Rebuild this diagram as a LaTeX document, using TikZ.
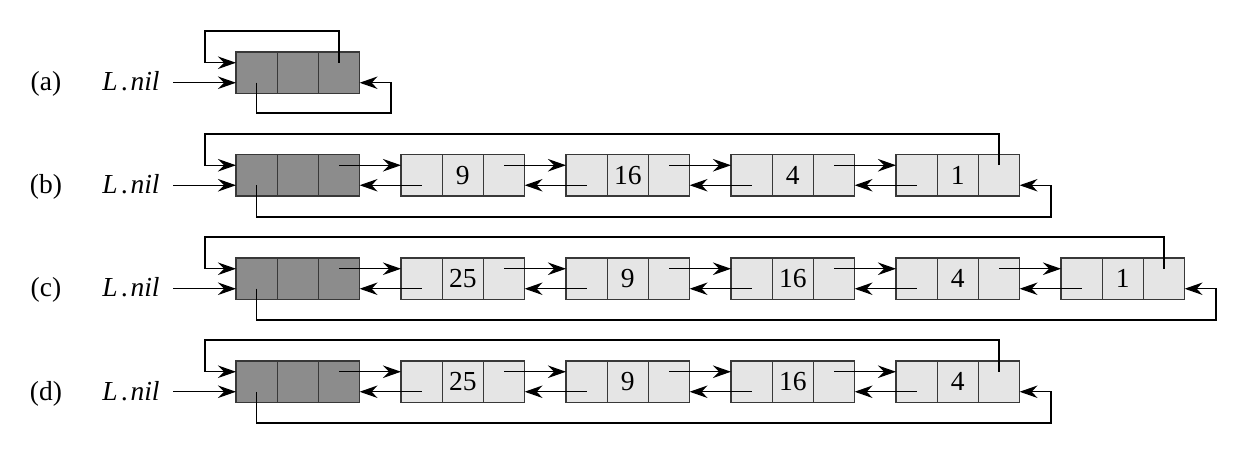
\documentclass[tikz,border=0pt]{standalone}
\usepackage{fontspec}
\setmainfont{Liberation Serif}
\usetikzlibrary{arrows.meta}
\definecolor{darkcell}{gray}{0.55}
\definecolor{lightcell}{gray}{0.9}
\definecolor{celledge}{gray}{0.22}
\tikzset{
  cell/.style={draw=celledge, line width=1.3pt, minimum width=41.2pt, minimum height=41.5pt,
    inner sep=0pt, outer sep=0pt, anchor=north west, font=\fontsize{27.5}{30}\selectfont},
  sent/.style={cell, fill=darkcell},
  elt/.style={cell, fill=lightcell},
  ptr/.style={line width=1.2pt, -{Stealth[length=18pt,width=12.5pt,inset=6pt]}},
  lbl/.style={anchor=base, font=\fontsize{27.5}{30}\selectfont, inner sep=0pt},
}
\newcommand{\listelem}[5]{%
  \node[#4] (#1-1) at (#2,#3) {};
  \node[#4] (#1-2) at (#2+41.2,#3) {#5};
  \node[#4] (#1-3) at (#2+82.4,#3) {};
}
\newcommand{\linkpair}[2]{%
  \draw[ptr] ([yshift=10pt]#1-3.center) -- ([yshift=10pt]#2-1.west);
  \draw[ptr] ([yshift=-10pt]#2-1.center) -- ([yshift=-10pt]#1-3.east);
}
\newcommand{\loops}[4]{%
  \draw[ptr] ([yshift=10pt]#2-3.center) |- (#3) |- ([yshift=10pt]#1-1.west);
  \draw[ptr] ([yshift=-10pt]#1-1.center) |- (#4) |- ([yshift=-10pt]#2-3.east);
}
\newcommand{\rowhead}[3]{% row id, label, top y
  \node[lbl] (#1-lab) at (46,#3+39) {(#2)};
  \node[lbl] (#1-name) at (131,#3+39) {\itshape L\kern4pt.\kern2pt nil};
  \coordinate (#1-tip) at ([yshift=-10pt]#10-1.west);
  \coordinate (#1-nilx) at (173,0);
  \draw[ptr] (#1-tip -| #1-nilx) -- (#1-tip);
}
\begin{document}
\begin{tikzpicture}[x=1pt,y=-1pt]
\useasboundingbox (0,0) rectangle (1247,454);
% (a)
\listelem{a0}{236}{52}{sent}{}
\rowhead{a}{a}{52}
\coordinate (a-tl) at (205,31);
\coordinate (a-br) at (391,113);
\loops{a0}{a0}{a-tl}{a-br}
% (b)
\listelem{b0}{236}{154.5}{sent}{}
\listelem{b1}{401}{154.5}{elt}{9}
\listelem{b2}{566}{154.5}{elt}{16}
\listelem{b3}{731}{154.5}{elt}{4}
\listelem{b4}{896}{154.5}{elt}{1}
\rowhead{b}{b}{154.5}
\linkpair{b0}{b1}\linkpair{b1}{b2}\linkpair{b2}{b3}\linkpair{b3}{b4}
\coordinate (b-tl) at (205,134);
\coordinate (b-br) at (1051,217);
\loops{b0}{b4}{b-tl}{b-br}
% (c)
\listelem{c0}{236}{258}{sent}{}
\listelem{c1}{401}{258}{elt}{25}
\listelem{c2}{566}{258}{elt}{9}
\listelem{c3}{731}{258}{elt}{16}
\listelem{c4}{896}{258}{elt}{4}
\listelem{c5}{1061}{258}{elt}{1}
\rowhead{c}{c}{258}
\linkpair{c0}{c1}\linkpair{c1}{c2}\linkpair{c2}{c3}\linkpair{c3}{c4}\linkpair{c4}{c5}
\coordinate (c-tl) at (205,237);
\coordinate (c-br) at (1216,320);
\loops{c0}{c5}{c-tl}{c-br}
% (d)
\listelem{d0}{236}{361}{sent}{}
\listelem{d1}{401}{361}{elt}{25}
\listelem{d2}{566}{361}{elt}{9}
\listelem{d3}{731}{361}{elt}{16}
\listelem{d4}{896}{361}{elt}{4}
\rowhead{d}{d}{361}
\linkpair{d0}{d1}\linkpair{d1}{d2}\linkpair{d2}{d3}\linkpair{d3}{d4}
\coordinate (d-tl) at (205,340);
\coordinate (d-br) at (1051,423);
\loops{d0}{d4}{d-tl}{d-br}
\end{tikzpicture}
\end{document}
